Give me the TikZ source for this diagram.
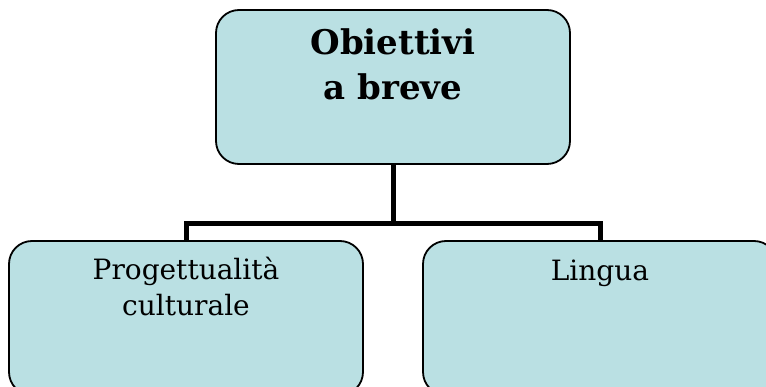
\documentclass[tikz,border=0pt]{standalone}
\usepackage{fontspec}
\newfontfamily\boxfont{DejaVu Serif}
\definecolor{boxblue}{RGB}{186,224,227}
\tikzset{
  goalbox/.style={draw=black, line width=1.8pt, fill=boxblue, rounded corners=23pt,
    minimum width=354pt, minimum height=154pt, inner sep=0pt},
  goaltext/.style={anchor=north, align=center, inner sep=0pt, font=\boxfont},
  conn/.style={line width=5pt}
}
\begin{document}
\begin{tikzpicture}[x=1pt,y=-1pt]
    \clip (0, 0) rectangle (766, 387) ;
    % the three boxes
    \node[goalbox] (top) at (393, 87) {} ;
    \node[goalbox] (left) at (186, 318) {} ;
    \node[goalbox] (right) at (600, 318) {} ;
    \node[goaltext, font=\boxfont\bfseries\fontsize{34}{45}\selectfont, yshift=-19pt] (toptext) at (top.north) {Obiettivi\\a breve} ;
    \node[goaltext, font=\boxfont\fontsize{28}{36}\selectfont, yshift=-17pt] (lefttext) at (left.north) {Progettualità\\culturale} ;
    \node[goaltext, font=\boxfont\fontsize{28}{36}\selectfont, yshift=-20pt] (righttext) at (right.north) {Lingua} ;
    % connectors
    \coordinate (split) at (393, 224) ;
    \draw[conn] (top.south) -- (split) ;
    \draw[conn] (left.north) |- (split) -| (right.north) ;
\end{tikzpicture}
\end{document}
